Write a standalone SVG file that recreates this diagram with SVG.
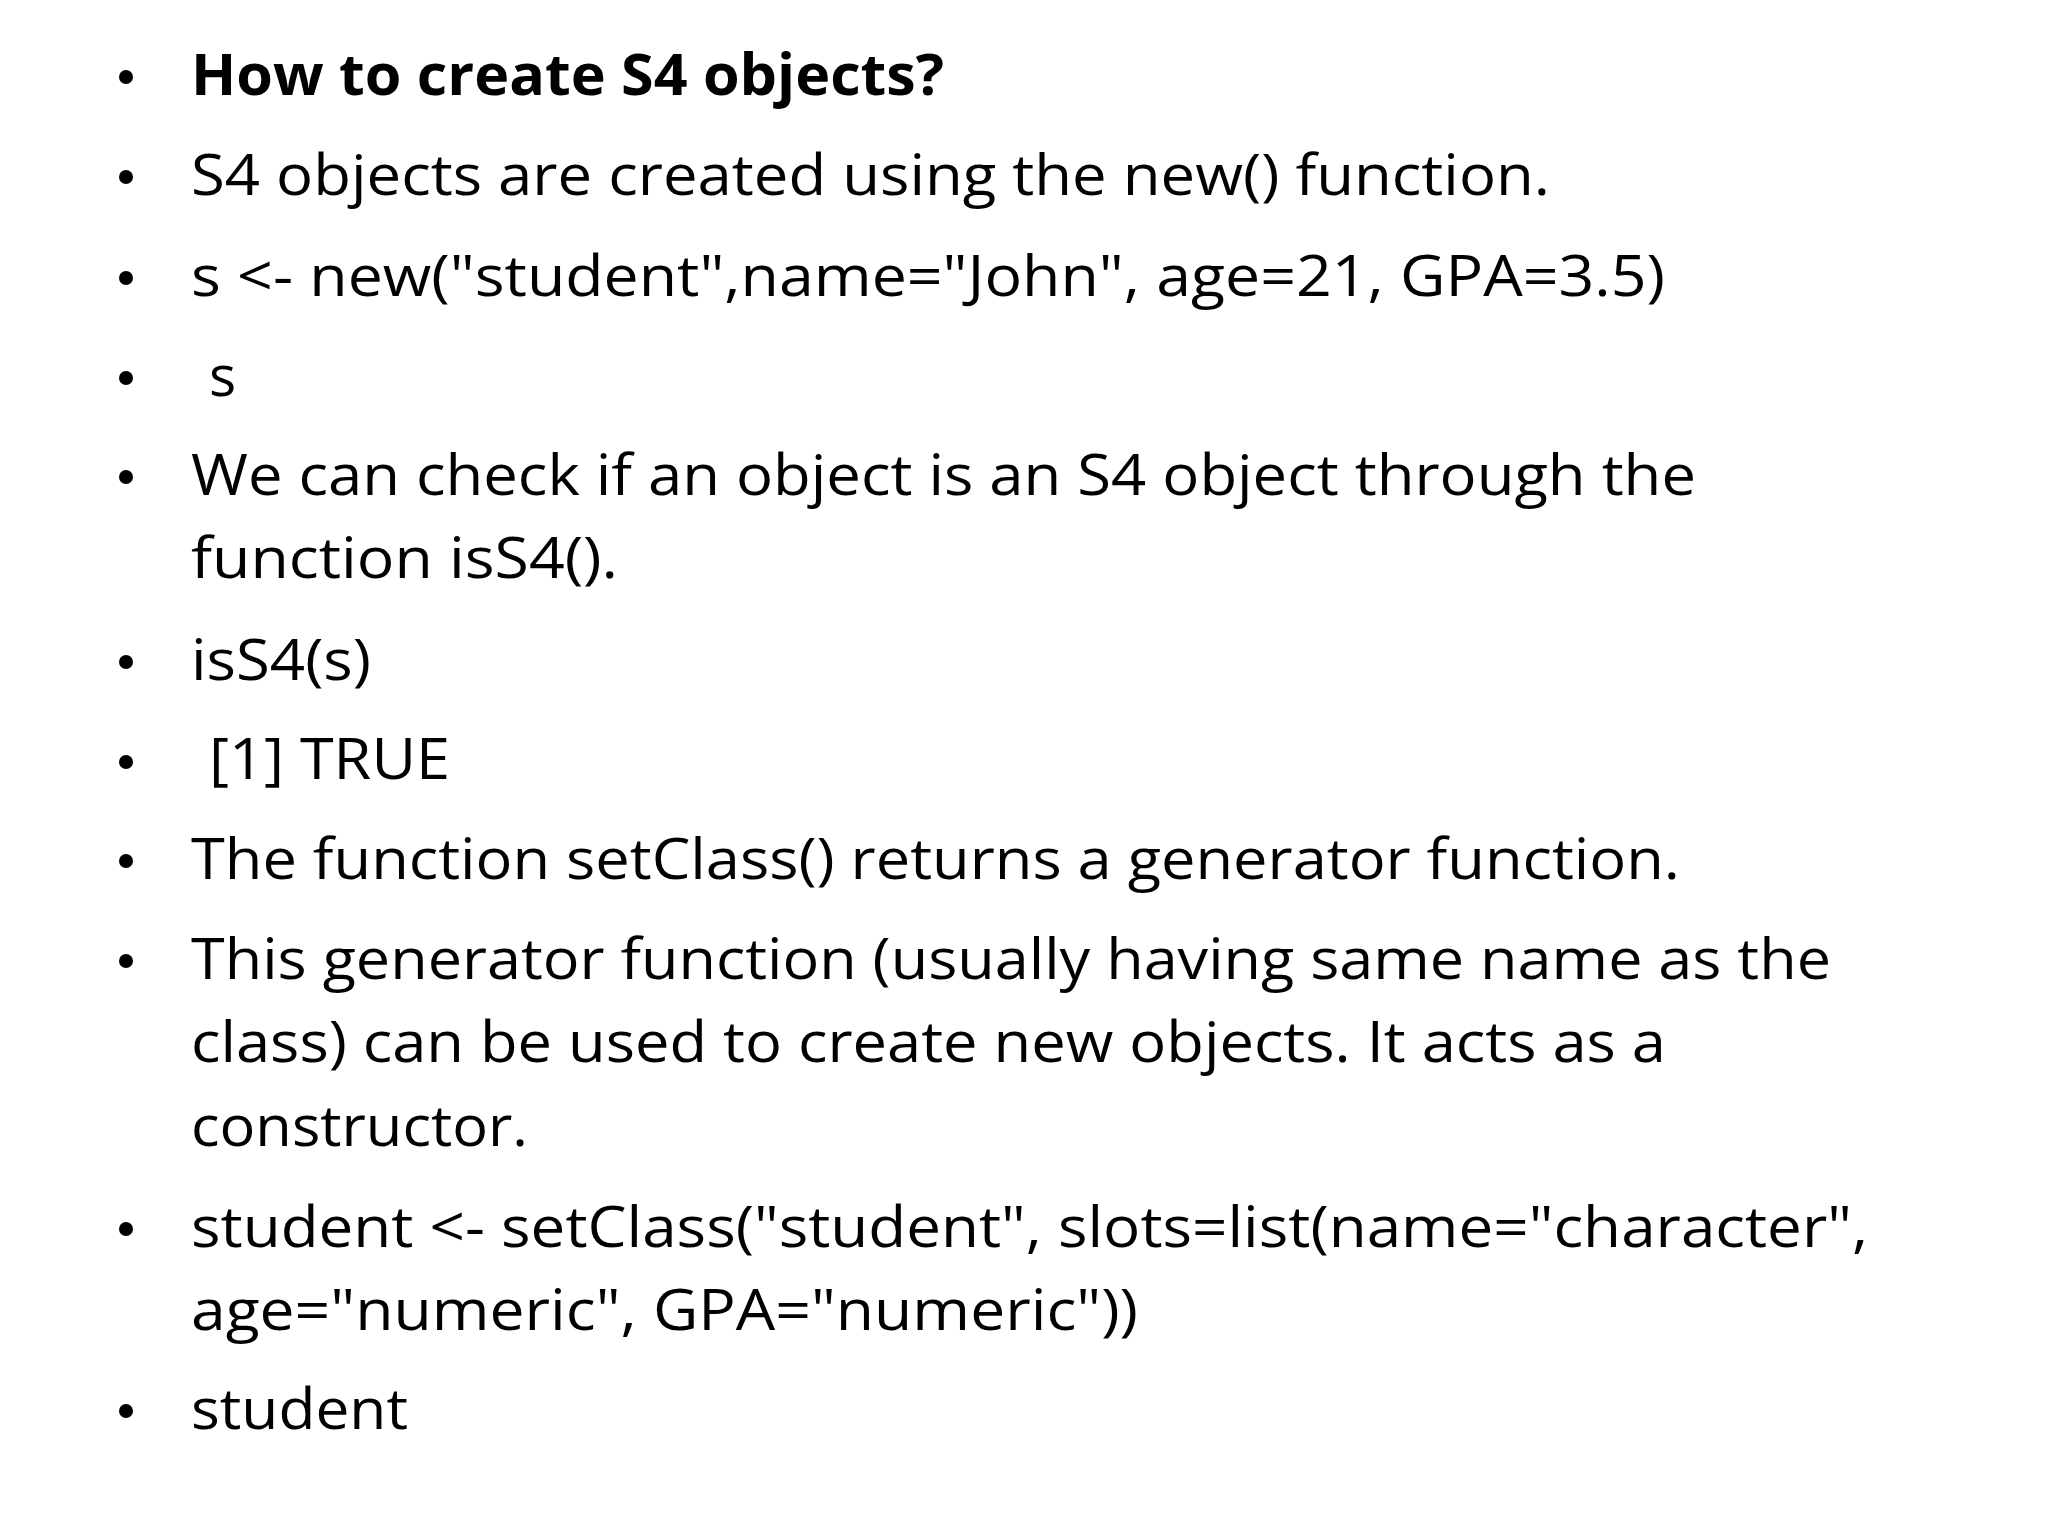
<svg xmlns="http://www.w3.org/2000/svg" width="2048" height="1536" viewBox="0 0 2048 1536">
<style>
text{font-family:"Open Sans","Liberation Sans",sans-serif;font-size:57px;fill:#000}
.b{font-weight:bold}
circle{fill:#000}
</style>
<rect width="2048" height="1536" fill="#fff"/>
<g id="bullets">
<circle cx="126" cy="77" r="7"/><circle cx="126" cy="177" r="7"/><circle cx="126" cy="278" r="7"/><circle cx="126" cy="378" r="7"/><circle cx="126" cy="477" r="7"/><circle cx="126" cy="662" r="7"/><circle cx="126" cy="762" r="7"/><circle cx="126" cy="861" r="7"/><circle cx="126" cy="961" r="7"/><circle cx="126" cy="1229" r="7"/><circle cx="126" cy="1411" r="7"/>
</g>
<g id="text">
<text class="b" x="191" y="95" textLength="753" lengthAdjust="spacingAndGlyphs">How to create S4 objects?</text>
<text x="191" y="195" textLength="1359" lengthAdjust="spacingAndGlyphs">S4 objects are created using the new() function.</text>
<text x="191" y="296" textLength="1474" lengthAdjust="spacingAndGlyphs">s &lt;- new("student",name="John", age=21, GPA=3.5)</text>
<text x="209" y="396">s</text>
<text x="191" y="495" textLength="1505" lengthAdjust="spacingAndGlyphs">We can check if an object is an S4 object through the</text>
<text x="191" y="578" textLength="427" lengthAdjust="spacingAndGlyphs">function isS4().</text>
<text x="191" y="680" textLength="180" lengthAdjust="spacingAndGlyphs">isS4(s)</text>
<text x="209" y="779" textLength="241" lengthAdjust="spacingAndGlyphs">[1] TRUE</text>
<text x="191" y="879" textLength="1489" lengthAdjust="spacingAndGlyphs">The function setClass() returns a generator function.</text>
<text x="191" y="979" textLength="1640" lengthAdjust="spacingAndGlyphs">This generator function (usually having same name as the</text>
<text x="191" y="1062" textLength="1475" lengthAdjust="spacingAndGlyphs">class) can be used to create new objects. It acts as a</text>
<text x="191" y="1146" textLength="337" lengthAdjust="spacingAndGlyphs">constructor.</text>
<text x="191" y="1247" textLength="1677" lengthAdjust="spacingAndGlyphs">student &lt;- setClass("student", slots=list(name="character",</text>
<text x="191" y="1330" textLength="947" lengthAdjust="spacingAndGlyphs">age="numeric", GPA="numeric"))</text>
<text x="191" y="1429" textLength="217" lengthAdjust="spacingAndGlyphs">student</text>
</g>
</svg>
